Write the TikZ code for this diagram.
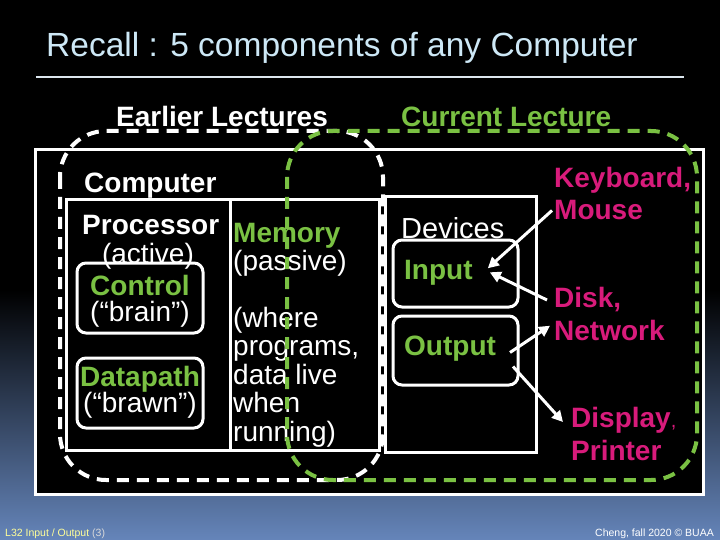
\documentclass[tikz,border=0pt]{standalone}
\usepackage{fontspec}
\setmainfont{Liberation Sans}
\usepackage{xcolor}
\usepackage{tikz}
\usetikzlibrary{arrows.meta,positioning,calc}
\definecolor{titlefg}{HTML}{CDE8F6}
\definecolor{rulefg}{HTML}{DCE6EE}
\definecolor{lime}{HTML}{7AC143}
\definecolor{hotpink}{HTML}{D81B7B}
\definecolor{footyellow}{HTML}{FFFF99}
\definecolor{bgblue}{HTML}{6585BA}

\begin{document}
\begin{tikzpicture}[x=1pt,y=-1pt,
    lbl/.style={inner sep=0pt, text=white, font=\fontsize{28}{28.5}\selectfont},
    lblb/.style={lbl, font=\fontsize{28}{28.5}\selectfont\bfseries},
    devlbl/.style={inner sep=0pt, text=hotpink, align=left,
                   font=\fontsize{28}{32.5}\selectfont\bfseries},
    bigbox/.style={draw=white, line width=3pt, fill=black, outer sep=0pt, inner sep=0pt},
    subbox/.style={draw=white, line width=3pt, rounded corners=9pt, outer sep=0pt, inner sep=0pt},
    lecture/.style={line width=4pt, dash pattern=on 12pt off 8pt, rounded corners=46pt},
    wire/.style={draw=white, line width=3pt, -{Triangle[length=11pt,width=11pt]}},
    foot/.style={inner sep=0pt, font=\fontsize{10.5}{12}\selectfont},
]
\useasboundingbox (0,0) rectangle (720,540);
\fill[black] (0,0) rectangle (720,540);
\shade[top color=black, bottom color=bgblue] (0,290) rectangle (720,540);

\node[anchor=base west, inner sep=0pt, text=titlefg, font=\fontsize{33.5}{36}\selectfont] (title) at (46,57) {Recall : 5 components of any Computer};
\draw[rulefg, line width=2pt] (36,77) -- (684,77);

\node[lblb, anchor=base west] (earlier) at (116,127) {Earlier Lectures};
\node[lblb, anchor=base west, text=lime] (current) at (401,127) {Current Lecture};

\node[bigbox, minimum width=668, minimum height=344] (computer) at (369,322) {};
\node[lblb, anchor=base west] (comptxt) at (84,193) {Computer};

\node[bigbox, minimum width=164, minimum height=250] (proc) at (148,325) {};
\node[bigbox, minimum width=149, minimum height=250, right=0pt of proc] (mem) {};
\node[bigbox, minimum width=151, minimum height=255] (dev) at (460.5,324.5) {};

\node[lblb, anchor=base west] (proctxt) at (82,235) {Processor};
\node[lbl, anchor=base] (active) at (148,263) {(active)};
\node[subbox, minimum width=126, minimum height=70] (ctlbox) at (140,298) {};
\node[lblb, anchor=base, text=lime] (ctl) at (140,295) {Control};
\node[lbl, anchor=base] (brain) at (140,321) {(“brain”)};
\node[subbox, minimum width=126, minimum height=70] (dpbox) at (140,393) {};
\node[lblb, anchor=base, text=lime] (dp) at (140,386) {Datapath};
\node[lbl, anchor=base] (brawn) at (140,412) {(“brawn”)};

\node[lblb, anchor=base west, text=lime] (memtxt) at (233,242) {Memory};
\node[lbl, anchor=base west, align=left] (passive) at (233,441)
    {(passive)\\[28.5pt](where\\programs,\\data live\\when\\running)};

\node[lbl, anchor=base west, font=\fontsize{29}{30}\selectfont] (devtxt) at (401,239) {Devices};
\node[subbox, minimum width=125, minimum height=67] (inbox) at (455.5,273.5) {};
\node[lblb, anchor=base west, text=lime] (intxt) at (404,279) {Input};
\node[subbox, minimum width=125, minimum height=69] (outbox) at (455.5,350.5) {};
\node[lblb, anchor=base west, text=lime] (outtxt) at (404,355) {Output};

\node[devlbl, anchor=base west] (kbd) at (554,220) {Keyboard,\\Mouse};
\node[devlbl, anchor=base west] (disk) at (554,340) {Disk,\\Network};
\node[devlbl, anchor=base west] (disp) at (571,460) {Display{\mdseries\fontsize{20}{20}\selectfont,}\\Printer};

\draw[wire] ($(kbd.south west)+(-2,-10)$) -- ($(intxt.east)+(15,-4)$);
\draw[wire] ($(disk.north west)+(-7,13)$) -- ($(intxt.east)+(17,0)$);
\draw[wire] ($(outbox.east)+(-8,2)$) -- ($(disk.west)+(-4,12)$);
\draw[wire] ($(outbox.east)+(-5,16)$) -- ($(disp.north west)+(-8,15)$);

\draw[lecture, white] (60,131) rectangle (383,480);
\draw[lecture, lime] (287,131) rectangle (697,480);

\node[foot, anchor=base west, text=footyellow] (course) at (5,536) {L32 Input / Output \textcolor{white!85!black}{(3)}};
\node[foot, anchor=base east, text=white] (credit) at (714,536) {Cheng, fall 2020 © BUAA};
\end{tikzpicture}
\end{document}
